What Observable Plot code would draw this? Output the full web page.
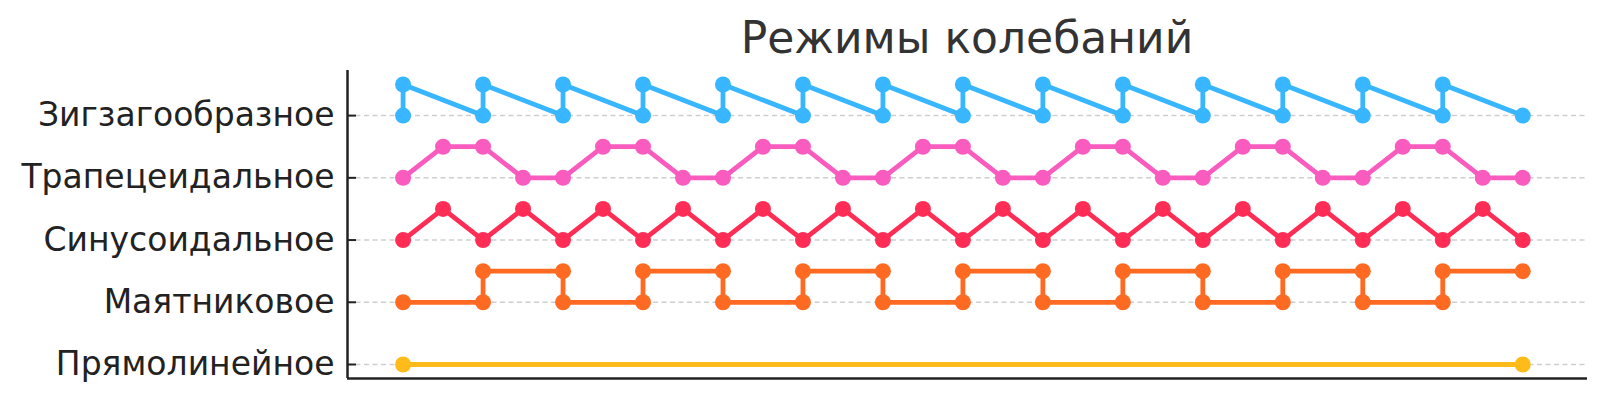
<!DOCTYPE html>
<html>
<head>
<meta charset="utf-8">
<script src="https://cdn.jsdelivr.net/npm/d3@7"></script>
<script src="https://cdn.jsdelivr.net/npm/@observablehq/plot@0.6"></script>
<style>
  html, body { margin: 0; padding: 0; background: #fff; }
  #wrap { position: relative; width: 1605px; height: 404px; overflow: hidden; }
  #title {
    position: absolute; left: 347px; width: 1240px; top: 16px;
    text-align: center; font-family: "DejaVu Sans", sans-serif;
    font-size: 44px; line-height: 44px; color: #333;
  }
  #chart { position: absolute; left: 0; top: 0; }
</style>
</head>
<body>
<div id="wrap">
  <div id="chart"></div>
  <div id="title">Режимы колебаний</div>
</div>
<script>
// Categories, bottom to top
const categories = ["Прямолинейное", "Маятниковое", "Синусоидальное", "Трапецеидальное", "Зигзагообразное"];
const colors = ["#ffbb1a", "#ff6a22", "#ff2d55", "#f95bbf", "#38b6ff"];

// Прямолинейное
const straightX = [0, 28];
const straightY = [0, 0];

// Маятниковое
const pendulumX = [0, 2, 2, 4, 4, 6, 6, 8, 8, 10, 10, 12, 12, 14, 14, 16, 16, 18, 18, 20, 20, 22, 22, 24, 24, 26, 26, 28];
const pendulumY = [0, 0, 0.5, 0.5, 0, 0, 0.5, 0.5, 0, 0, 0.5, 0.5, 0, 0, 0.5, 0.5, 0, 0, 0.5, 0.5, 0, 0, 0.5, 0.5, 0, 0, 0.5, 0.5];

// Синусоидальное
const sineX = [0, 1, 2, 3, 4, 5, 6, 7, 8, 9, 10, 11, 12, 13, 14, 15, 16, 17, 18, 19, 20, 21, 22, 23, 24, 25, 26, 27, 28];
const sineY = [0, 0.5, 0, 0.5, 0, 0.5, 0, 0.5, 0, 0.5, 0, 0.5, 0, 0.5, 0, 0.5, 0, 0.5, 0, 0.5, 0, 0.5, 0, 0.5, 0, 0.5, 0, 0.5, 0];

// Трапецеидальное
const trapX = [0, 1, 2, 3, 4, 5, 6, 7, 8, 9, 10, 11, 12, 13, 14, 15, 16, 17, 18, 19, 20, 21, 22, 23, 24, 25, 26, 27, 28];
const trapY = [0, 0.5, 0.5, 0, 0, 0.5, 0.5, 0, 0, 0.5, 0.5, 0, 0, 0.5, 0.5, 0, 0, 0.5, 0.5, 0, 0, 0.5, 0.5, 0, 0, 0.5, 0.5, 0, 0];

// Зигзагообразное
const zigX = [0, 0, 2, 2, 4, 4, 6, 6, 8, 8, 10, 10, 12, 12, 14, 14, 16, 16, 18, 18, 20, 20, 22, 22, 24, 24, 26, 26, 28];
const zigY = [0, 0.5, 0, 0.5, 0, 0.5, 0, 0.5, 0, 0.5, 0, 0.5, 0, 0.5, 0, 0.5, 0, 0.5, 0, 0.5, 0, 0.5, 0, 0.5, 0, 0.5, 0, 0.5, 0];

const seriesX = [straightX, pendulumX, sineX, trapX, zigX];
const seriesY = [straightY, pendulumY, sineY, trapY, zigY];

const data = [];
categories.forEach((name, row) => {
  seriesX[row].forEach((x, i) => {
    data.push({ name, row, x, y: row + seriesY[row][i] });
  });
});

const xDomain = [-1.39, 29.62];
const yDomain = [-0.225, 4.725];
const rows = [0, 1, 2, 3, 4];

const chart = Plot.plot({
  width: 1605,
  height: 404,
  marginLeft: 347,
  marginRight: 18,
  marginTop: 70,
  marginBottom: 26,
  style: { fontFamily: "DejaVu Sans, sans-serif", fontSize: "33px", color: "#222", background: "transparent" },
  x: { domain: xDomain, axis: null },
  y: { domain: yDomain, axis: null },
  color: { domain: categories, range: colors },
  marks: [
    Plot.ruleY(rows, { stroke: "#cfcfcf", strokeWidth: 1.5, strokeDasharray: "5,3.5" }),
    Plot.line(data, { x: "x", y: "y", z: "name", stroke: "name", strokeWidth: 4.8, strokeLinejoin: "round", strokeLinecap: "round" }),
    Plot.dot(data, { x: "x", y: "y", fill: "name", r: 8, stroke: "none" }),
    Plot.axisY({ ticks: rows, tickSize: 0, tickPadding: 13, tickFormat: (i) => categories[i], fontSize: 33, fill: "#222", label: null }),
    Plot.axisY({ ticks: rows, tickSize: 9, dx: 9, tickFormat: () => "", stroke: "#222", strokeWidth: 2, strokeOpacity: 1, label: null }),
    Plot.ruleX([xDomain[0]], { stroke: "#222", strokeWidth: 2.5 }),
    Plot.ruleY([yDomain[0]], { stroke: "#222", strokeWidth: 2.5 })
  ]
});
document.getElementById("chart").appendChild(chart);
</script>
</body>
</html>
